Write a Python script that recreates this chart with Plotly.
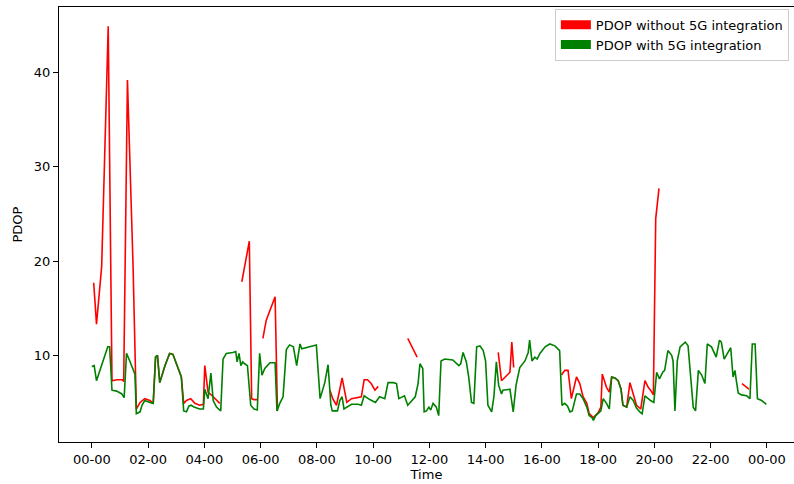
import pandas as pd
import plotly.graph_objects as go

# PDOP with 5G integration (sampled through the day)
green_time = [
    "00:00", "00:05", "00:10", "00:34", "00:38", "00:43", "00:53", "01:04", "01:09", "01:14",
    "01:21", "01:32", "01:35", "01:43", "01:47", "01:53", "02:04", "02:11", "02:16", "02:20",
    "02:25", "02:36", "02:46", "02:53", "03:11", "03:16", "03:22", "03:27", "03:32", "03:38",
    "03:50", "03:58", "04:01", "04:08", "04:14", "04:19", "04:26", "04:35", "04:40", "04:47",
    "05:01", "05:07", "05:10", "05:14", "05:18", "05:22", "05:26", "05:32", "05:39", "05:46",
    "05:53", "05:58", "06:03", "06:09", "06:20", "06:31", "06:35", "06:41", "06:48", "06:55",
    "07:02", "07:10", "07:17", "07:24", "07:28", "07:59", "08:07", "08:17", "08:24", "08:30",
    "08:33", "08:44", "08:49", "08:54", "08:58", "09:04", "09:14", "09:28", "09:35", "09:41",
    "09:53", "10:05", "10:14", "10:25", "10:32", "10:43", "10:50", "10:55", "11:07", "11:14",
    "11:30", "11:36", "11:40", "11:46", "11:49", "11:54", "11:59", "12:03", "12:08", "12:15",
    "12:20", "12:25", "12:33", "12:50", "12:58", "13:03", "13:07", "13:12", "13:19", "13:24",
    "13:30", "13:35", "13:41", "13:48", "13:55", "14:00", "14:05", "14:13", "14:18", "14:23",
    "14:28", "14:34", "14:37", "14:52", "14:59", "15:05", "15:13", "15:24", "15:31", "15:34",
    "15:39", "15:45", "15:50", "15:56", "16:07", "16:17", "16:28", "16:38", "16:43", "16:49",
    "16:55", "17:00", "17:05", "17:14", "17:21", "17:28", "17:36", "17:41", "17:47", "17:50",
    "17:55", "18:00", "18:06", "18:11", "18:18", "18:24", "18:29", "18:36", "18:43", "18:49",
    "18:53", "19:01", "19:08", "19:15", "19:22", "19:29", "19:34", "19:40", "19:47", "19:52",
    "19:59", "20:05", "20:11", "20:18", "20:22", "20:29", "20:37", "20:40", "20:44", "20:49",
    "20:55", "21:06", "21:12", "21:18", "21:23", "21:28", "21:34", "21:41", "21:48", "21:53",
    "22:02", "22:12", "22:19", "22:23", "22:29", "22:36", "22:43", "22:48", "22:52", "22:55",
    "22:59", "23:06", "23:17", "23:24", "23:29", "23:35", "23:40", "23:49", "23:59",
]
green_pdop = [
    8.8, 8.9, 7.3, 10.9, 10.9, 6.3, 6.2, 5.9, 5.5, 10.2,
    9.4, 8.0, 3.8, 4.0, 4.7, 5.2, 5.0, 4.9, 9.8, 10.0,
    7.1, 8.9, 10.2, 10.1, 7.7, 4.1, 4.0, 4.6, 4.7, 4.5,
    4.3, 4.3, 6.4, 5.4, 8.1, 5.2, 4.5, 4.1, 9.6, 10.2,
    10.3, 10.4, 9.3, 10.2, 8.9, 9.3, 9.1, 8.9, 4.7, 4.3,
    4.2, 10.2, 7.9, 8.6, 9.2, 9.2, 4.1, 4.9, 5.6, 10.6,
    11.1, 10.9, 8.9, 11.2, 10.7, 11.1, 5.4, 7.1, 9.0, 4.7,
    4.1, 4.1, 5.2, 5.6, 4.3, 4.5, 4.8, 4.8, 4.7, 5.7,
    5.3, 5.0, 5.6, 5.4, 7.1, 7.1, 7.0, 5.4, 5.7, 4.7,
    5.6, 7.0, 9.1, 8.6, 4.0, 4.1, 4.5, 4.2, 4.9, 4.5,
    3.6, 9.4, 9.6, 9.5, 9.1, 8.9, 9.1, 10.3, 9.3, 7.7,
    5.0, 4.9, 10.9, 11.0, 10.5, 9.4, 4.7, 4.0, 5.7, 9.3,
    6.8, 5.9, 6.3, 6.4, 4.0, 6.8, 8.7, 9.4, 10.3, 11.6,
    9.4, 9.8, 9.6, 10.2, 10.9, 11.2, 11.0, 10.5, 4.7, 4.9,
    4.6, 4.0, 4.1, 5.9, 5.9, 5.4, 4.5, 3.6, 3.4, 3.1,
    3.6, 3.8, 4.1, 5.4, 4.9, 4.3, 7.7, 7.6, 7.3, 6.4,
    4.7, 4.5, 5.6, 5.2, 4.4, 4.0, 3.8, 5.7, 5.4, 5.2,
    5.0, 8.2, 7.5, 8.2, 8.4, 10.5, 10.0, 9.4, 4.1, 9.4,
    10.9, 11.4, 11.0, 7.3, 4.5, 4.1, 8.4, 7.9, 7.0, 11.2,
    10.9, 9.8, 11.6, 11.4, 9.6, 10.2, 10.8, 7.7, 8.4, 7.3,
    6.0, 5.8, 5.7, 5.4, 11.2, 11.2, 5.4, 5.2, 4.8,
]

# PDOP without 5G integration (None = no solution)
red_time = [
    "00:04", "00:10", "00:21", "00:35", "00:43", "00:54", "01:06", "01:08", "01:16", "01:28",
    "01:35", "01:43", "01:53", "02:04", "02:11", "02:16", "02:20", "02:25", "02:36", "02:46",
    "02:53", "03:11", "03:16", "03:22", "03:31", "03:40", "03:50", "03:58", "04:01", "04:08",
    "04:19", "04:33", "04:34",
    "05:20", "05:36", "05:41", "05:46", "05:54", "05:55",
    "06:05", "06:12", "06:31", "06:36", "06:37",
    "08:28", "08:34", "08:42", "08:54", "09:04", "09:14", "09:35", "09:41", "09:48", "09:56",
    "10:04", "10:11", "10:12",
    "11:14", "11:34", "11:35",
    "14:27", "14:34", "14:52", "14:56", "15:00", "15:01",
    "16:42", "16:49", "16:56", "17:03", "17:14", "17:21", "17:28", "17:36", "17:41", "17:50",
    "18:00", "18:06", "18:09", "18:18", "18:24", "18:29", "18:36", "18:43", "18:49", "18:53",
    "19:01", "19:08", "19:15", "19:22", "19:31", "19:40", "19:47", "19:52", "19:58", "20:03",
    "20:10", "20:11",
    "23:07", "23:22",
]
red_pdop = [
    17.7, 13.3, 19.4, 44.9, 7.3, 7.4, 7.4, 7.2, 39.2, 19.5,
    4.3, 5.0, 5.4, 5.2, 4.9, 9.8, 10.0, 7.1, 8.9, 10.2,
    10.1, 7.7, 4.9, 5.2, 5.4, 4.9, 4.7, 4.8, 8.9, 6.1,
    5.6, 4.9, None,
    17.8, 22.1, 5.4, 5.3, 5.3, None,
    11.8, 13.7, 16.2, 4.1, None,
    6.3, 5.4, 4.7, 7.6, 5.0, 5.4, 5.6, 7.4, 7.4, 7.0,
    6.3, 6.7, None,
    11.8, 9.8, None,
    10.3, 7.3, 8.2, 11.4, 8.7, None,
    7.9, 8.4, 8.4, 5.4, 7.7, 7.0, 5.6, 4.9, 3.8, 3.4,
    3.9, 4.5, 8.0, 6.6, 6.1, 7.7, 7.6, 7.3, 6.4, 4.7,
    4.5, 7.1, 5.9, 4.7, 4.3, 7.3, 6.6, 6.3, 5.8, 24.5,
    27.7, None,
    7.0, 6.4,
]

day = "2023-01-01"
base = pd.Timestamp(day)


def to_dt(times):
    return [base + pd.Timedelta(hours=int(t[:2]), minutes=int(t[3:])) for t in times]


RED = "#ff0000"
GREEN = "#008000"
FONT = "DejaVu Sans"

fig = go.Figure()
fig.add_trace(go.Scatter(
    x=to_dt(red_time), y=red_pdop, mode="lines", connectgaps=False,
    line=dict(color=RED, width=1.6), showlegend=False, hoverinfo="skip",
))
fig.add_trace(go.Scatter(
    x=to_dt(green_time), y=green_pdop, mode="lines",
    line=dict(color=GREEN, width=1.6), showlegend=False, hoverinfo="skip",
))
# Patch-style legend entries
fig.add_trace(go.Scatter(x=[None], y=[None], mode="lines", name="PDOP without 5G integration",
                         line=dict(color=RED, width=9)))
fig.add_trace(go.Scatter(x=[None], y=[None], mode="lines", name="PDOP with 5G integration",
                         line=dict(color=GREEN, width=9)))

x_lo = base - pd.Timedelta(minutes=70)
x_hi = base + pd.Timedelta(hours=24, minutes=58)

fig.update_layout(
    width=794, height=484,
    margin=dict(l=59, r=0, t=7, b=42),
    paper_bgcolor="white", plot_bgcolor="white",
    font=dict(family=FONT, size=13, color="#000000"),
    showlegend=True,
    legend=dict(
        x=0.993, y=0.996, xanchor="right", yanchor="top",
        bgcolor="white", bordercolor="#cccccc", borderwidth=1,
        font=dict(family=FONT, size=13, color="#000000"),
        tracegroupgap=0,
    ),
    xaxis=dict(
        type="date", range=[x_lo, x_hi],
        tick0=base, dtick=2 * 3600 * 1000, tickformat="%H-%M",
        ticks="outside", ticklen=5, tickwidth=1, tickcolor="#000000",
        showgrid=False, zeroline=False,
        showline=True, linecolor="#000000", linewidth=1, mirror=True,
        title=dict(text="Time", font=dict(family=FONT, size=13), standoff=3),
    ),
    yaxis=dict(
        range=[0.8, 46.95], tickvals=[10, 20, 30, 40],
        ticks="outside", ticklen=5, tickwidth=1, tickcolor="#000000",
        showgrid=False, zeroline=False,
        showline=True, linecolor="#000000", linewidth=1, mirror=True,
        title=dict(text="PDOP", font=dict(family=FONT, size=13), standoff=8),
    ),
)

fig.write_html("out.html")
